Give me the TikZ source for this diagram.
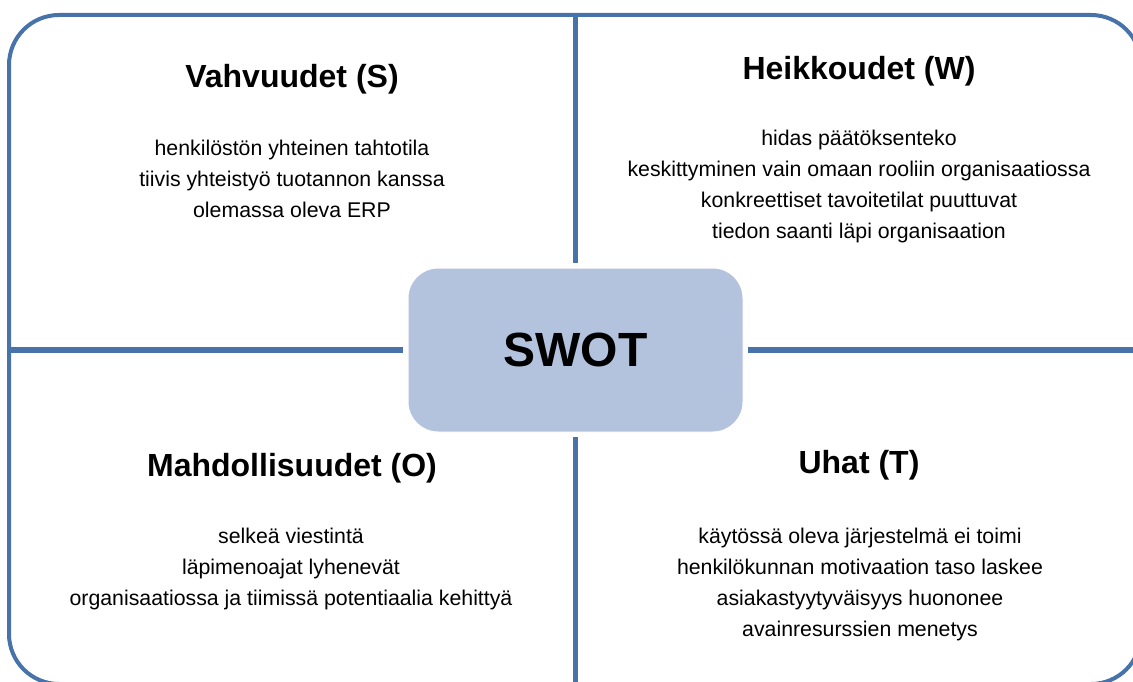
\documentclass[tikz,border=0pt]{standalone}
\usepackage{fontspec}
\setmainfont{Liberation Sans}
\definecolor{swline}{RGB}{72,114,170}
\definecolor{swfill}{RGB}{179,194,221}

\begin{document}
\begin{tikzpicture}[x=1pt,y=-1pt,
  frame/.style={draw=swline,line width=4pt,rounded corners=50pt},
  divider/.style={draw=swline,line width=5.5pt},
  head/.style={font=\fontsize{32}{38}\selectfont\bfseries,inner sep=0pt},
  body/.style={font=\fontsize{21.3}{31}\selectfont,align=center,inner sep=0pt},
  core/.style={draw=white,line width=1pt,fill=swfill,rounded corners=30pt,
    minimum width=335pt,minimum height=164pt,outer sep=5pt,
    font=\fontsize{48}{58}\selectfont\bfseries}]
  \useasboundingbox (0,0) rectangle (1133,682);
  \draw[frame] (9,15) rectangle (1141,684);
  \coordinate (top) at (575.5,15);
  \coordinate (bot) at (575.5,684);
  \coordinate (lft) at (9,350);
  \coordinate (rgt) at (1141,350);
  \node[core] (swot) at (575.5,350) {SWOT};
  \draw[divider] (top)--(swot.north); \draw[divider] (swot.south)--(bot);
  \draw[divider] (lft)--(swot.west); \draw[divider] (swot.east)--(rgt);
  \node[head] (s) at (292,79) {Vahvuudet (S)};
  \node[head] (w) at (859,71) {Heikkoudet (W)};
  \node[head] (o) at (292,468) {Mahdollisuudet (O)};
  \node[head] (t) at (859,465) {Uhat (T)};
  \node[body] (sb) at (292,178.5) {henkilöstön yhteinen tahtotila\\tiivis yhteistyö tuotannon kanssa\\olemassa oleva ERP};
  \node[body] (wb) at (859,186) {hidas päätöksenteko\\keskittyminen vain omaan rooliin organisaatiossa\\konkreettiset tavoitetilat puuttuvat\\tiedon saanti läpi organisaation};
  \node[body] (ob) at (291,568.5) {selkeä viestintä\\läpimenoajat lyhenevät\\organisaatiossa ja tiimissä potentiaalia kehittyä};
  \node[body] (tb) at (860,584.5) {käytössä oleva järjestelmä ei toimi\\henkilökunnan motivaation taso laskee\\asiakastyytyväisyys huononee\\avainresurssien menetys};
\end{tikzpicture}
\end{document}
